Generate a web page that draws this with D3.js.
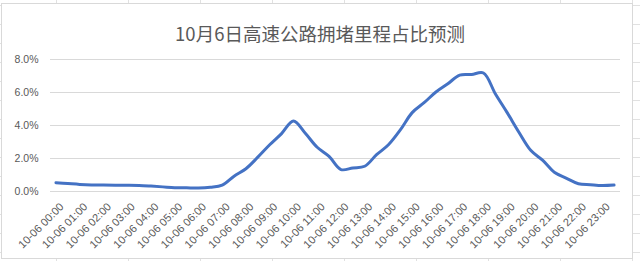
<!DOCTYPE html>
<html>
<head>
<meta charset="utf-8">
<script src="https://cdn.jsdelivr.net/npm/d3@7"></script>
<style>
  html, body { margin: 0; padding: 0; background: #fff; }
  svg { display: block; }
</style>
</head>
<body>
<div id="chart"></div>
<script>
// half-hourly categories, every second one is labelled on the axis
const times = [
  "10-06 00:00","10-06 00:30","10-06 01:00","10-06 01:30","10-06 02:00","10-06 02:30",
  "10-06 03:00","10-06 03:30","10-06 04:00","10-06 04:30","10-06 05:00","10-06 05:30",
  "10-06 06:00","10-06 06:30","10-06 07:00","10-06 07:30","10-06 08:00","10-06 08:30",
  "10-06 09:00","10-06 09:30","10-06 10:00","10-06 10:30","10-06 11:00","10-06 11:30",
  "10-06 12:00","10-06 12:30","10-06 13:00","10-06 13:30","10-06 14:00","10-06 14:30",
  "10-06 15:00","10-06 15:30","10-06 16:00","10-06 16:30","10-06 17:00","10-06 17:30",
  "10-06 18:00","10-06 18:30","10-06 19:00","10-06 19:30","10-06 20:00","10-06 20:30",
  "10-06 21:00","10-06 21:30","10-06 22:00","10-06 22:30","10-06 23:00","10-06 23:30"
];

// congestion share, percent
const congestion = [
  0.50, 0.45, 0.40, 0.37, 0.36, 0.35, 0.35, 0.34, 0.30, 0.25, 0.20, 0.19,
  0.18, 0.23, 0.36, 0.90, 1.35, 2.05, 2.80, 3.48, 4.24, 3.50, 2.65, 2.10,
  1.30, 1.40, 1.50, 2.20, 2.80, 3.70, 4.75, 5.35, 6.00, 6.50, 7.02, 7.06,
  7.15, 5.90, 4.75, 3.55, 2.45, 1.85, 1.12, 0.77, 0.44, 0.38, 0.33, 0.36
];

const yTicks = [0, 2, 4, 6, 8];
const title = "10月6日高速公路拥堵里程占比预测";

const width = 640, height = 261;
const plot = { left: 50, right: 620, top: 59, bottom: 191 };

const svg = d3.select("#chart").append("svg")
  .attr("width", width)
  .attr("height", height)
  .style("font-family", "'Liberation Sans', Arial, sans-serif");

// spreadsheet cells peeking out behind the chart
const sheet = svg.append("g").attr("stroke", "#e1e1e1").attr("stroke-width", 1);
sheet.selectAll("line.col")
  .data(d3.range(56, width, 72))
  .join("line")
  .attr("x1", d => d + 0.5).attr("x2", d => d + 0.5)
  .attr("y1", 0).attr("y2", height);
sheet.selectAll("line.row")
  .data(d3.range(5, height, 19))
  .join("line")
  .attr("y1", d => d + 0.5).attr("y2", d => d + 0.5)
  .attr("x1", 0).attr("x2", width);

// chart area
svg.append("rect")
  .attr("x", 1.5).attr("y", 3.5)
  .attr("width", 631).attr("height", 255)
  .attr("fill", "#fff")
  .attr("stroke", "#d9d9d9");

const x = d3.scaleBand()
  .domain(times)
  .range([plot.left, plot.right]);

const y = d3.scaleLinear()
  .domain([0, 8])
  .range([plot.bottom, plot.top]);

const cx = d => x(d) + x.bandwidth() / 2;

// gridlines
svg.append("g")
  .selectAll("line")
  .data(yTicks)
  .join("line")
  .attr("x1", plot.left).attr("x2", plot.right)
  .attr("y1", d => Math.round(y(d)) + 0.5)
  .attr("y2", d => Math.round(y(d)) + 0.5)
  .attr("stroke", "#d9d9d9");

// y labels
svg.append("g")
  .selectAll("text")
  .data(yTicks)
  .join("text")
  .attr("x", 38.5)
  .attr("y", d => y(d))
  .attr("dy", "0.36em")
  .attr("text-anchor", "end")
  .attr("fill", "#595959")
  .style("font-size", "10.5px")
  .text(d => d3.format(".1%")(d / 100));

// x labels, one per hour
const hourly = times.filter((d, i) => i % 2 === 0);
svg.append("g")
  .selectAll("text")
  .data(hourly)
  .join("text")
  .attr("transform", d => `translate(${cx(d) + 3},${202}) rotate(-45)`)
  .attr("dy", "0.7em")
  .attr("text-anchor", "end")
  .attr("fill", "#595959")
  .style("font-size", "11px")
  .text(d => d);

// smoothed line
const line = d3.line()
  .x((d, i) => cx(times[i]))
  .y(d => y(d))
  .curve(d3.curveCatmullRom.alpha(0.5));

svg.append("path")
  .datum(congestion)
  .attr("d", line)
  .attr("fill", "none")
  .attr("stroke", "#4472c4")
  .attr("stroke-width", 3)
  .attr("stroke-linejoin", "round")
  .attr("stroke-linecap", "round");

// title
svg.append("text")
  .attr("x", 320)
  .attr("y", 41)
  .attr("text-anchor", "middle")
  .attr("fill", "#595959")
  .style("font-family", "'Noto Sans CJK SC', sans-serif")
  .style("font-size", "18.5px")
  .text(title);
</script>
</body>
</html>
